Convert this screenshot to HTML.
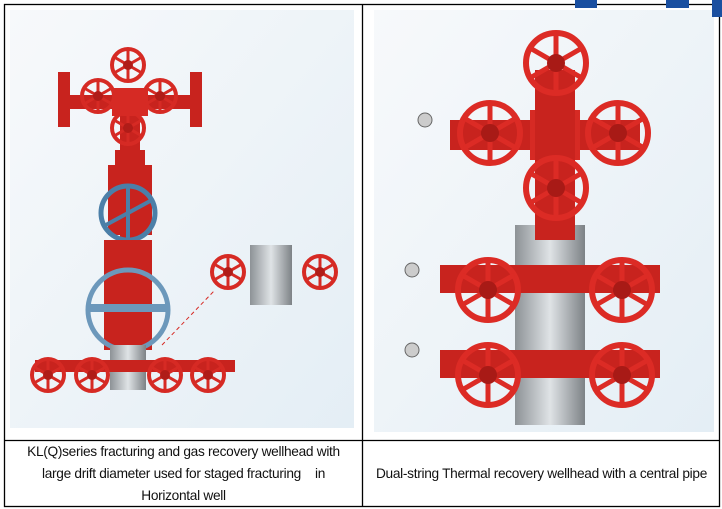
<!DOCTYPE html>
<html><head><style>
body{margin:0;background:#fff;width:722px;height:509px;overflow:hidden;font-family:"Liberation Sans",sans-serif}
svg{position:absolute;left:0;top:0}
.t{position:absolute;font-size:13.7px;color:#111;text-align:center;line-height:22px;letter-spacing:-0.3px;white-space:nowrap}
</style></head><body>
<svg width="722" height="509" viewBox="0 0 722 509">
<defs>
<linearGradient id="bg" x1="0" y1="0" x2="1" y2="1"><stop offset="0" stop-color="#f7f9fb"/><stop offset="1" stop-color="#e4eef5"/></linearGradient>
<linearGradient id="gr" x1="0" x2="1"><stop offset="0" stop-color="#8d9296"/><stop offset=".5" stop-color="#dfe3e6"/><stop offset="1" stop-color="#7d8286"/></linearGradient>
<g id="w"><circle r="16" fill="none" stroke="#d62a24" stroke-width="4"/><path d="M0-16V16M-14 8L14-8M-14-8L14 8" stroke="#d62a24" stroke-width="3"/><circle r="5" fill="#b01c18"/></g>
<g id="W"><circle r="30" fill="none" stroke="#dc2b25" stroke-width="6"/><path d="M0-30V30M-26 15L26-15M-26-15L26 15" stroke="#dc2b25" stroke-width="5"/><circle r="9" fill="#a81a16"/></g>
</defs>
<rect x="10" y="10" width="344" height="418" fill="url(#bg)"/>
<rect x="374" y="10" width="340" height="422" fill="url(#bg)"/>
<rect x="115" y="150" width="30" height="60" fill="#c8231e"/>
<rect x="120" y="90" width="20" height="260" fill="#c8231e"/>
<rect x="60" y="95" width="140" height="14" fill="#c8231e"/>
<rect x="112" y="88" width="36" height="28" fill="#d62a24"/>
<use href="#w" x="128" y="65"/><use href="#w" x="128" y="128"/>
<use href="#w" x="98" y="96"/><use href="#w" x="160" y="96"/>
<rect x="58" y="72" width="12" height="55" fill="#c8231e"/><rect x="190" y="72" width="12" height="55" fill="#c8231e"/>
<rect x="108" y="165" width="44" height="70" fill="#c8231e"/>
<circle cx="128" cy="213" r="27" fill="none" stroke="#4b7fa8" stroke-width="5"/>
<path d="M128 186V240M104 226L152 200" stroke="#4b7fa8" stroke-width="4"/>
<rect x="104" y="240" width="48" height="110" fill="#c8231e"/>
<circle cx="128" cy="310" r="40" fill="none" stroke="#6c98bb" stroke-width="5"/>
<rect x="86" y="304" width="84" height="8" fill="#6c98bb"/>
<rect x="110" y="345" width="36" height="45" fill="url(#gr)"/>
<rect x="35" y="360" width="200" height="12" fill="#c8231e"/>
<use href="#w" x="48" y="375"/><use href="#w" x="92" y="375"/><use href="#w" x="165" y="375"/><use href="#w" x="208" y="375"/>
<line x1="162" y1="345" x2="215" y2="290" stroke="#d62a24" stroke-dasharray="4 3"/>
<rect x="250" y="245" width="42" height="60" fill="url(#gr)"/>
<use href="#w" x="228" y="272"/><use href="#w" x="320" y="272"/>
<rect x="515" y="225" width="70" height="200" fill="url(#gr)"/>
<rect x="450" y="120" width="190" height="30" fill="#c8231e"/>
<rect x="530" y="110" width="50" height="50" fill="#d62a24"/>
<rect x="535" y="70" width="40" height="170" fill="#c8231e"/>
<use href="#W" x="556" y="63"/><use href="#W" x="490" y="133"/><use href="#W" x="618" y="133"/><use href="#W" x="556" y="188"/>
<rect x="440" y="265" width="220" height="28" fill="#c8231e"/>
<use href="#W" x="488" y="290"/><use href="#W" x="622" y="290"/>
<rect x="440" y="350" width="220" height="28" fill="#c8231e"/>
<use href="#W" x="488" y="375"/><use href="#W" x="622" y="375"/>
<circle cx="425" cy="120" r="7" fill="#ccc" stroke="#666"/><circle cx="412" cy="270" r="7" fill="#ccc" stroke="#666"/><circle cx="412" cy="350" r="7" fill="#ccc" stroke="#666"/>
<g stroke="#000" stroke-width="1.3" fill="none">
<rect x="4.5" y="4.5" width="715" height="502"/>
<line x1="4" y1="440.5" x2="720" y2="440.5"/>
<line x1="362.5" y1="4" x2="362.5" y2="507"/>
</g>
<rect x="575" y="0" width="22" height="8" fill="#1a4fa0"/>
<rect x="666" y="0" width="23" height="8" fill="#1a4fa0"/>
<rect x="712" y="0" width="10" height="17" fill="#1a4fa0"/>
</svg>
<div class="t" style="left:5px;top:441px;width:357px">KL(Q)series fracturing and gas recovery wellhead with<br>large drift diameter used for staged fracturing &nbsp;&nbsp; in<br>Horizontal well</div>
<div class="t" style="left:363px;top:463px;width:357px">Dual-string Thermal recovery wellhead with a central pipe</div>
</body></html>
